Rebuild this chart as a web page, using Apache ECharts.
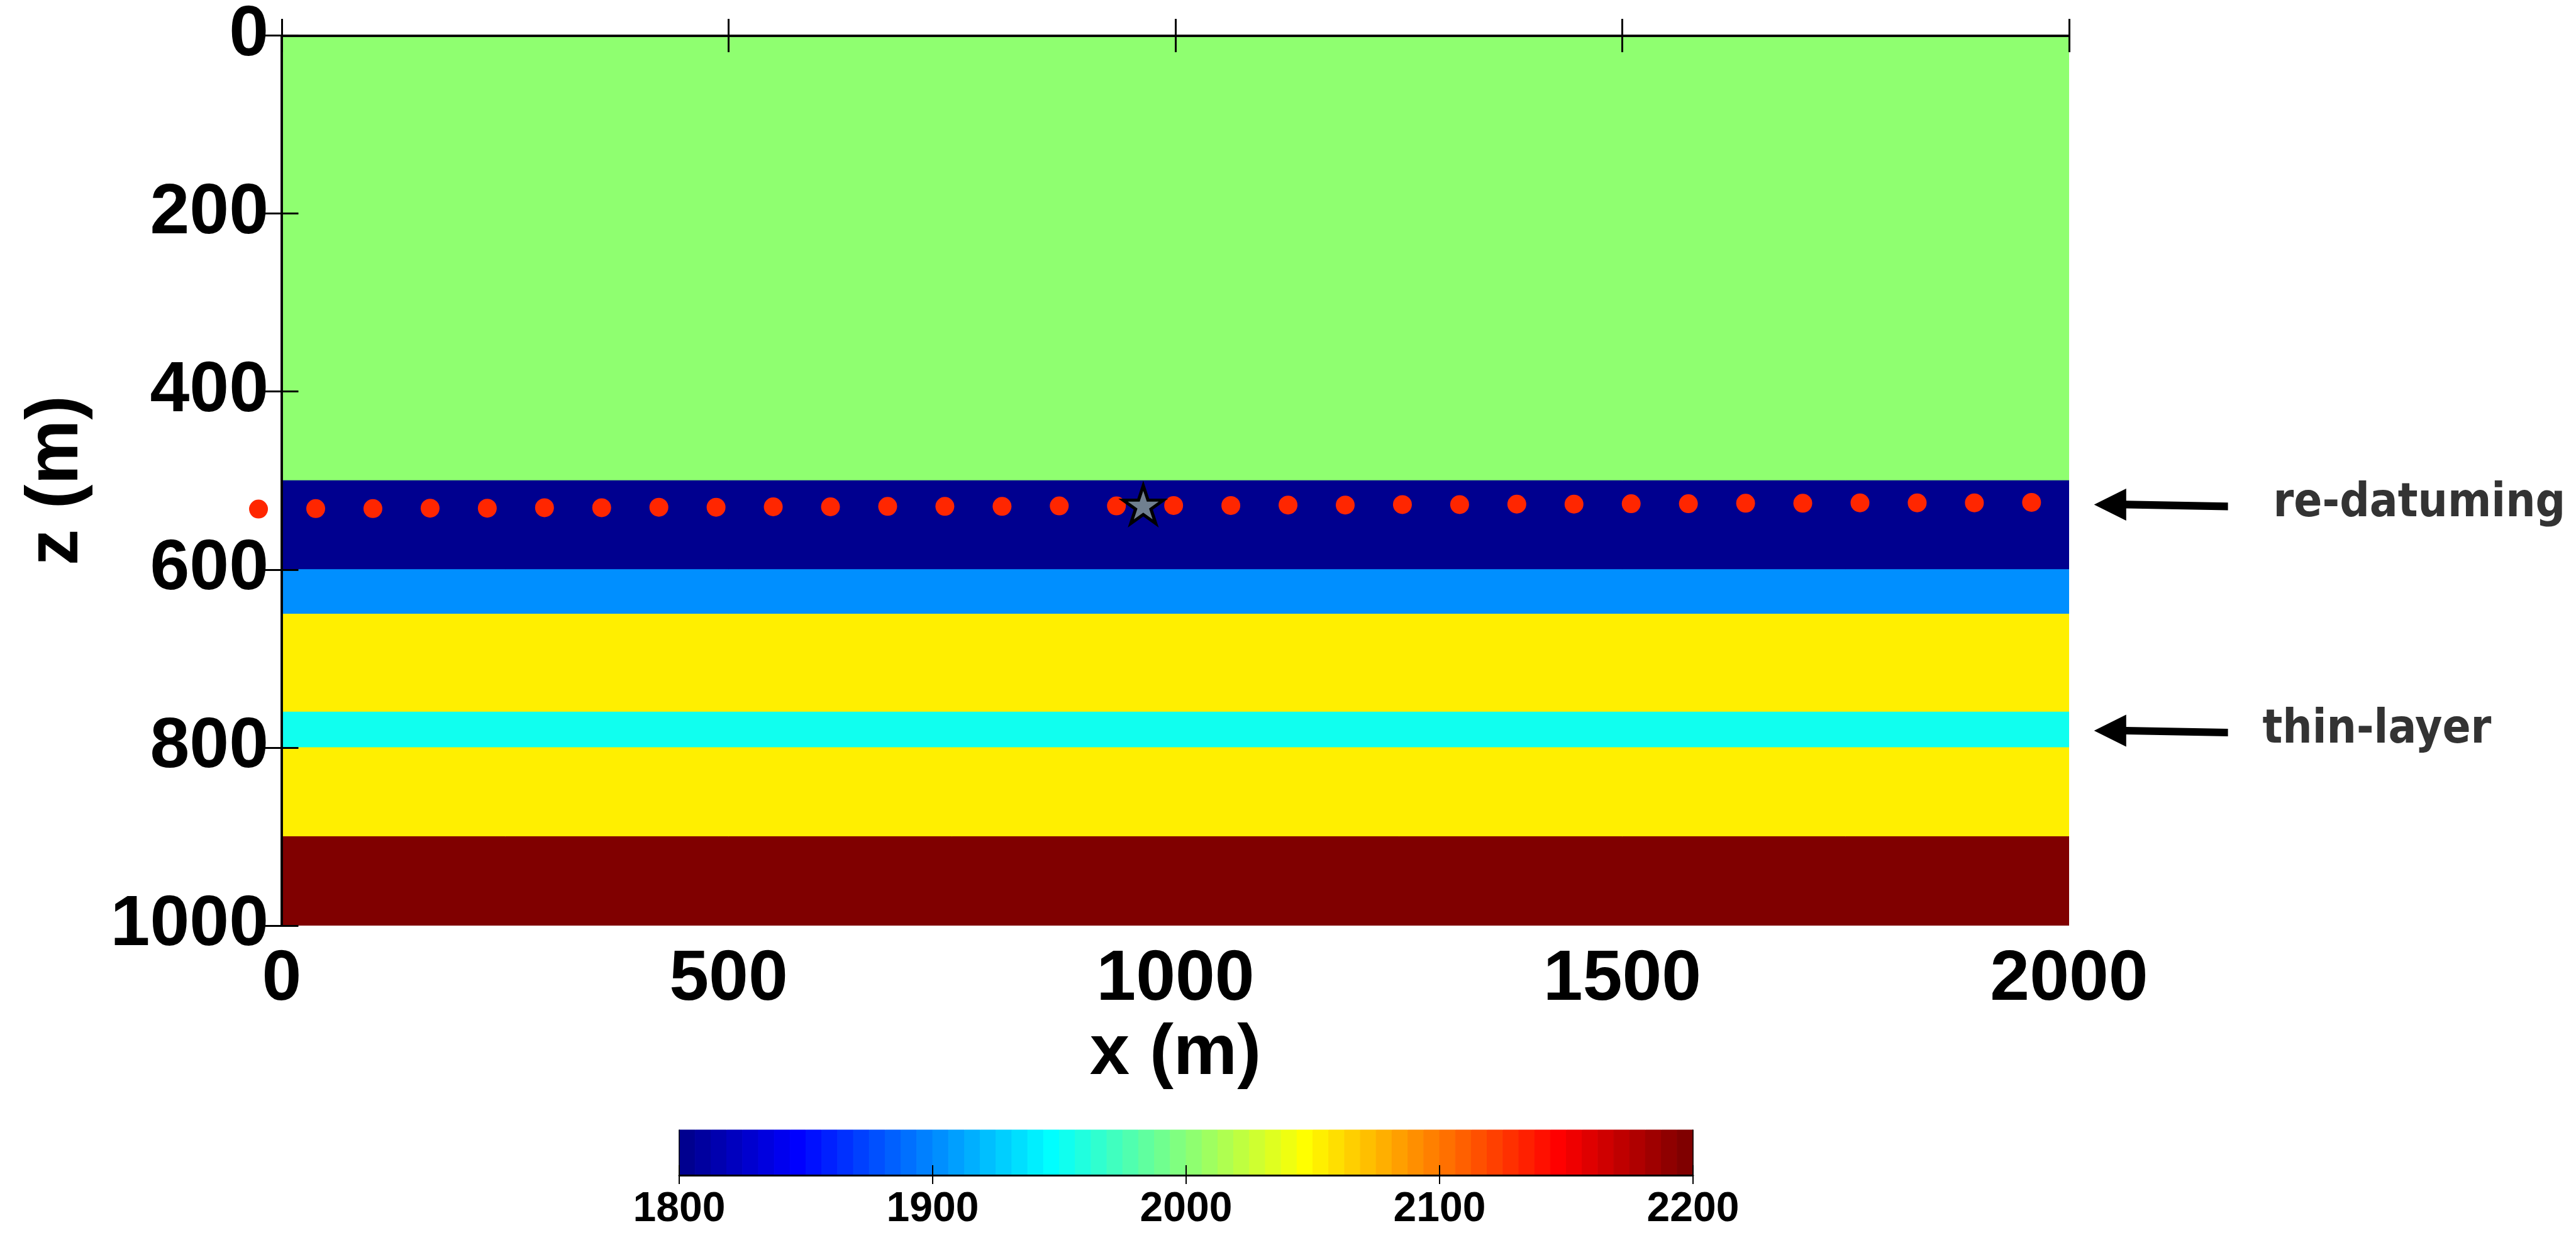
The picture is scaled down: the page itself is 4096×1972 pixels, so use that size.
<!DOCTYPE html>
<html>
<head>
<meta charset="utf-8">
<script src="https://cdn.jsdelivr.net/npm/echarts@6/dist/echarts.min.js"></script>
<style>
  html, body { margin: 0; padding: 0; background: #ffffff; }
  #chart { width: 4096px; height: 1972px; }
</style>
</head>
<body>
<div id="chart"></div>
<script>
// Layered velocity model (m/s), receiver line and source position.
const xRange = [0, 2000];
const zRange = [0, 1000];
const xTickStep = 500;
const zTickStep = 200;

const layerTop      = [0,    500,  600,  650,  760,  800,  900];
const layerBottom   = [500,  600,  650,  760,  800,  900,  1000];
const layerVelocity = [2000, 1800, 1900, 2050, 1950, 2050, 2200];

const receiverX = [-26, 38, 102, 166, 230, 294, 358, 422, 486, 550, 614, 678, 742, 806, 870, 934,
                   998, 1062, 1126, 1190, 1254, 1318, 1382, 1446, 1510, 1574, 1638, 1702, 1766, 1830, 1894, 1958];
const receiverZ = [532, 531.5, 531.5, 531, 531, 530.5, 530.5, 530, 530, 529.5, 529.5, 529, 529, 529, 528.5, 528.5,
                   528, 528, 527.5, 527.5, 527, 527, 526.5, 526.5, 526, 526, 525.5, 525.5, 525, 525, 525, 524.5];

const sourceX = [964];
const sourceZ = [527];

const velocityRange = [1800, 2200];
const colorbarStep = 100;

const annotationText = ['re-datuming', 'thin-layer'];
const annotationZ = [527, 781];

// MATLAB-style jet colormap with m entries
function jet(m) {
  const n = Math.ceil(m / 4);
  const u = [];
  for (let i = 1; i <= n; i++) u.push(i / n);
  for (let i = 1; i < n; i++) u.push(1);
  for (let i = n; i >= 1; i--) u.push(i / n);
  const g0 = Math.ceil(n / 2) - (m % 4 === 1 ? 1 : 0);
  const r = new Array(m).fill(0), g = new Array(m).fill(0), b = new Array(m).fill(0);
  u.forEach(function (val, j) {
    const gi = g0 + j + 1, ri = gi + n, bi = gi - n;
    if (gi >= 1 && gi <= m) g[gi - 1] = val;
    if (ri >= 1 && ri <= m) r[ri - 1] = val;
    if (bi >= 1 && bi <= m) b[bi - 1] = val;
  });
  return r.map(function (_, i) {
    return 'rgb(' + Math.round(r[i] * 255) + ',' + Math.round(g[i] * 255) + ',' + Math.round(b[i] * 255) + ')';
  });
}
const NCOLORS = 64;
const palette = jet(NCOLORS);
function velocityColor(v) {
  const t = (v - velocityRange[0]) / (velocityRange[1] - velocityRange[0]);
  return palette[Math.min(NCOLORS - 1, Math.max(0, Math.floor(t * NCOLORS)))];
}

const layerData = layerTop.map(function (top, i) {
  return [xRange[0], xRange[1], top, layerBottom[i], layerVelocity[i]];
});
const cbWidth = (velocityRange[1] - velocityRange[0]) / NCOLORS;
const colorbarData = palette.map(function (_, i) {
  return [velocityRange[0] + i * cbWidth, velocityRange[0] + (i + 1) * cbWidth, i];
});
const receiverData = receiverX.map(function (x, i) { return [x, receiverZ[i]]; });
const sourceData = sourceX.map(function (x, i) { return [x, sourceZ[i]]; });

const FONT = '"Liberation Sans", Arial, Helvetica, sans-serif';
const STAR = 'path://M50 0 L61.23 34.55 L97.55 34.55 L68.17 55.9 L79.39 90.45 L50 69.1 L20.61 90.45 L31.83 55.9 L2.45 34.55 L38.77 34.55 Z';

const frameLine = { show: true, lineStyle: { color: '#000', width: 3.5 } };
const frameTick = { show: true, inside: true, length: 26.5, lineStyle: { color: '#000', width: 3 } };
const plainLabel = function (v) { return String(v); };

const chart = echarts.init(document.getElementById('chart'), null, { renderer: 'canvas' });

chart.setOption({
  animation: false,
  backgroundColor: '#ffffff',
  grid: [
    { left: 448, top: 49, width: 2842, height: 1423, containLabel: false },
    { left: 1080, top: 1797, width: 1612, height: 72, containLabel: false }
  ],
  xAxis: [
    {
      type: 'value', gridIndex: 0, position: 'bottom', z: 10,
      min: xRange[0], max: xRange[1], interval: xTickStep,
      axisLine: frameLine, axisTick: frameTick, splitLine: { show: false },
      axisLabel: { fontFamily: FONT, fontWeight: 'bold', fontSize: 113, color: '#000', margin: 30, formatter: plainLabel },
      name: 'x (m)', nameLocation: 'middle', nameGap: 137,
      nameTextStyle: { fontFamily: FONT, fontWeight: 'bold', fontSize: 114, color: '#000' }
    },
    {
      type: 'value', gridIndex: 0, position: 'top', z: 10,
      min: xRange[0], max: xRange[1], interval: xTickStep,
      axisLine: frameLine, axisTick: frameTick, splitLine: { show: false }, axisLabel: { show: false }
    },
    {
      type: 'value', gridIndex: 1, position: 'bottom', z: 10,
      min: velocityRange[0], max: velocityRange[1], interval: colorbarStep,
      axisLine: { show: true, lineStyle: { color: '#000', width: 3 } },
      axisTick: { show: true, inside: true, length: 16, lineStyle: { color: '#000', width: 2 } },
      splitLine: { show: false },
      axisLabel: { fontFamily: FONT, fontWeight: 'bold', fontSize: 66, color: '#000', margin: 22, formatter: plainLabel }
    },
    {
      type: 'value', gridIndex: 1, position: 'top', z: 10,
      min: velocityRange[0], max: velocityRange[1], interval: colorbarStep,
      axisLine: { show: true, lineStyle: { color: '#000', width: 1.5 } },
      axisTick: { show: true, inside: true, length: 14, lineStyle: { color: '#000', width: 2 } },
      splitLine: { show: false }, axisLabel: { show: false }
    }
  ],
  yAxis: [
    {
      type: 'value', gridIndex: 0, position: 'left', inverse: true, z: 10,
      min: zRange[0], max: zRange[1], interval: zTickStep,
      axisLine: frameLine, axisTick: frameTick, splitLine: { show: false },
      axisLabel: { fontFamily: FONT, fontWeight: 'bold', fontSize: 113, color: '#000', margin: 21, formatter: plainLabel },
      name: 'z (m)', nameLocation: 'middle', nameGap: 299,
      nameTextStyle: { fontFamily: FONT, fontWeight: 'bold', fontSize: 116, color: '#000' }
    },
    {
      type: 'value', gridIndex: 0, position: 'right', inverse: true, z: 10,
      min: zRange[0], max: zRange[1], interval: zTickStep,
      axisLine: frameLine, axisTick: frameTick, splitLine: { show: false }, axisLabel: { show: false }
    },
    {
      type: 'value', gridIndex: 1, position: 'left', z: 10, min: 0, max: 1,
      axisLine: { show: true, lineStyle: { color: '#000', width: 1.5 } },
      axisTick: { show: false }, splitLine: { show: false }, axisLabel: { show: false }
    },
    {
      type: 'value', gridIndex: 1, position: 'right', z: 10, min: 0, max: 1,
      axisLine: { show: true, lineStyle: { color: '#000', width: 1.5 } },
      axisTick: { show: false }, splitLine: { show: false }, axisLabel: { show: false }
    }
  ],
  series: [
    {
      name: 'layers', type: 'custom', xAxisIndex: 0, yAxisIndex: 0, z: 1, clip: true,
      data: layerData,
      encode: { x: [0, 1], y: [2, 3] },
      renderItem: function (params, api) {
        const p0 = api.coord([api.value(0), api.value(2)]);
        const p1 = api.coord([api.value(1), api.value(3)]);
        const c = velocityColor(api.value(4));
        return {
          type: 'rect',
          shape: { x: Math.min(p0[0], p1[0]), y: Math.min(p0[1], p1[1]),
                   width: Math.abs(p1[0] - p0[0]), height: Math.abs(p1[1] - p0[1]) },
          style: { fill: c, stroke: c, lineWidth: 1 }
        };
      }
    },
    {
      name: 'colorbar', type: 'custom', xAxisIndex: 2, yAxisIndex: 2, z: 1,
      data: colorbarData,
      encode: { x: [0, 1] },
      renderItem: function (params, api) {
        const p0 = api.coord([api.value(0), 0]);
        const p1 = api.coord([api.value(1), 1]);
        const c = palette[api.value(2)];
        return {
          type: 'rect',
          shape: { x: p0[0], y: p1[1], width: p1[0] - p0[0], height: p0[1] - p1[1] },
          style: { fill: c, stroke: c, lineWidth: 1 }
        };
      }
    },
    {
      name: 'receivers', type: 'scatter', xAxisIndex: 0, yAxisIndex: 0, z: 3, clip: false,
      data: receiverData, symbol: 'circle', symbolSize: 30,
      itemStyle: { color: '#ff2600', opacity: 1 }
    },
    {
      name: 'source', type: 'scatter', xAxisIndex: 0, yAxisIndex: 0, z: 4, clip: false,
      data: sourceData, symbol: STAR, symbolSize: [64, 60],
      itemStyle: { color: '#708090', borderColor: '#000', borderWidth: 5, opacity: 1 }
    }
  ]
});

// Annotation arrows and labels to the right of the model
const ARROW_TIP = 39.7, ARROW_HEAD = 90.8, ARROW_TAIL = 252.6, HEAD_HALF = 25.5, SHAFT_HALF = 6.1, TAIL_DROP = 3;
const TEXT_LEFT = [324.5, 307.5];
const NOTE_FONT_SIZE = 74;
const elements = [];
annotationZ.forEach(function (z, i) {
  const p = chart.convertToPixel({ gridIndex: 0 }, [xRange[1], z]);
  const x0 = p[0], y = p[1];
  elements.push({
    type: 'polygon', z: 20,
    shape: { points: [
      [x0 + ARROW_TIP, y],
      [x0 + ARROW_HEAD, y - HEAD_HALF],
      [x0 + ARROW_HEAD, y - SHAFT_HALF],
      [x0 + ARROW_TAIL, y - SHAFT_HALF + TAIL_DROP],
      [x0 + ARROW_TAIL, y + SHAFT_HALF + TAIL_DROP],
      [x0 + ARROW_HEAD, y + SHAFT_HALF],
      [x0 + ARROW_HEAD, y + HEAD_HALF]
    ] },
    style: { fill: '#000' }
  });
  elements.push({
    type: 'text', z: 20,
    x: x0 + TEXT_LEFT[i], y: y + 26 - 0.36 * NOTE_FONT_SIZE,
    style: { text: annotationText[i], fill: '#333333',
             font: 'bold ' + NOTE_FONT_SIZE + 'px "DejaVu Sans Condensed", "DejaVu Sans", sans-serif',
             textAlign: 'left', textVerticalAlign: 'middle' }
  });
});
chart.setOption({ graphic: { elements: elements } });
</script>
</body>
</html>
